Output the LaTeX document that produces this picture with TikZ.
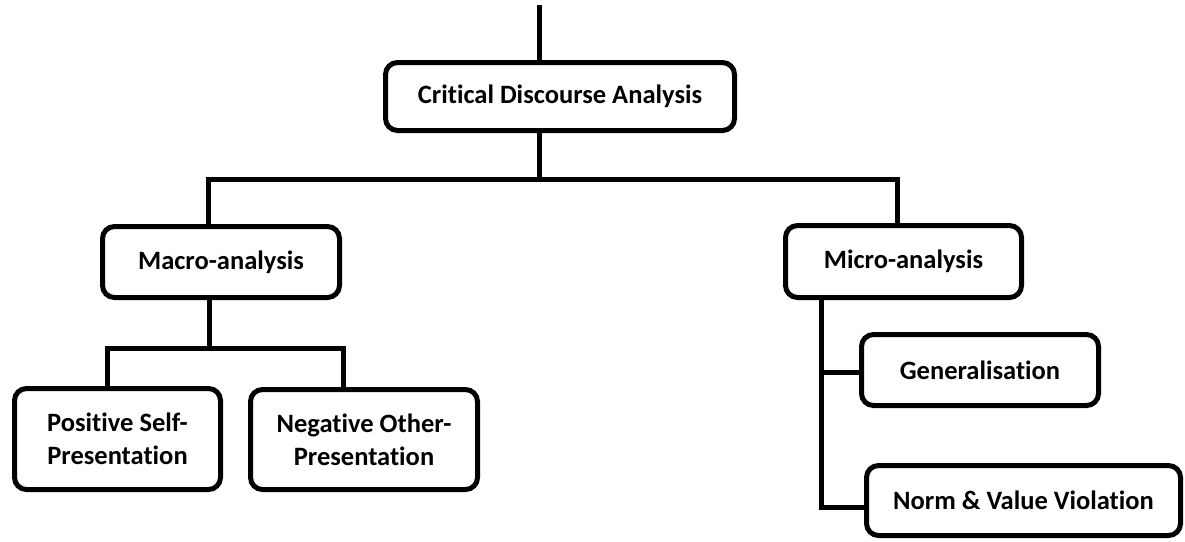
\documentclass[tikz,border=0pt]{standalone}
\usepackage{fontspec}
\setmainfont[RawFeature={-liga;-clig}]{Carlito}
\begin{document}
\begin{tikzpicture}[x=1pt,y=-1pt,
  box/.style={draw, line width=5pt, rounded corners=12pt, fill=white, inner sep=0pt,
    font=\bfseries\fontsize{26.5}{33}\selectfont, align=center},
  conn/.style={line width=5pt}]
\useasboundingbox (0,0) rectangle (1185,541);
\node[box, minimum width=349pt, minimum height=68pt] (cda) at (560,96.5) {Critical Discourse Analysis};
\node[box, minimum width=237pt, minimum height=71pt] (macro) at (221,262) {Macro-analysis};
\node[box, minimum width=236pt, minimum height=72pt] (micro) at (903.5,261.5) {Micro-analysis};
\node[box, minimum width=206pt, minimum height=101pt] (pos) at (117.5,439) {Positive Self-\\Presentation};
\node[box, minimum width=227pt, minimum height=100pt] (neg) at (364,439.5) {Negative Other-\\Presentation};
\node[box, minimum width=237pt, minimum height=71pt] (gen) at (980,370) {Generalisation};
\node[box, minimum width=314pt, minimum height=70pt] (norm) at (1023.5,500.5) {Norm \& Value Violation};
\coordinate (top) at (539,5);
\coordinate (hub) at (539,179);
\coordinate (hL) at (208,179);
\coordinate (hR) at (897,179);
\coordinate (mL) at (107,348);
\coordinate (mM) at (209,348);
\coordinate (mR) at (343,348);
\coordinate (vx) at (821,372);
\coordinate (vb) at (821,507);
\draw[conn] (top) -- (top |- cda.north);
\draw[conn] (cda.south -| hub) -- (hub);
\draw[conn] (macro.north -| hL) -- (hL) -- (hR) -- (micro.north -| hR);
\draw[conn] (macro.south -| mM) -- (mM);
\draw[conn] (pos.north -| mL) -- (mL) -- (mR) -- (neg.north -| mR);
\draw[conn] (micro.south -| vx) -- (vb) -- (vb -| norm.west);
\draw[conn] (vx) -- (vx -| gen.west);
\end{tikzpicture}
\end{document}
